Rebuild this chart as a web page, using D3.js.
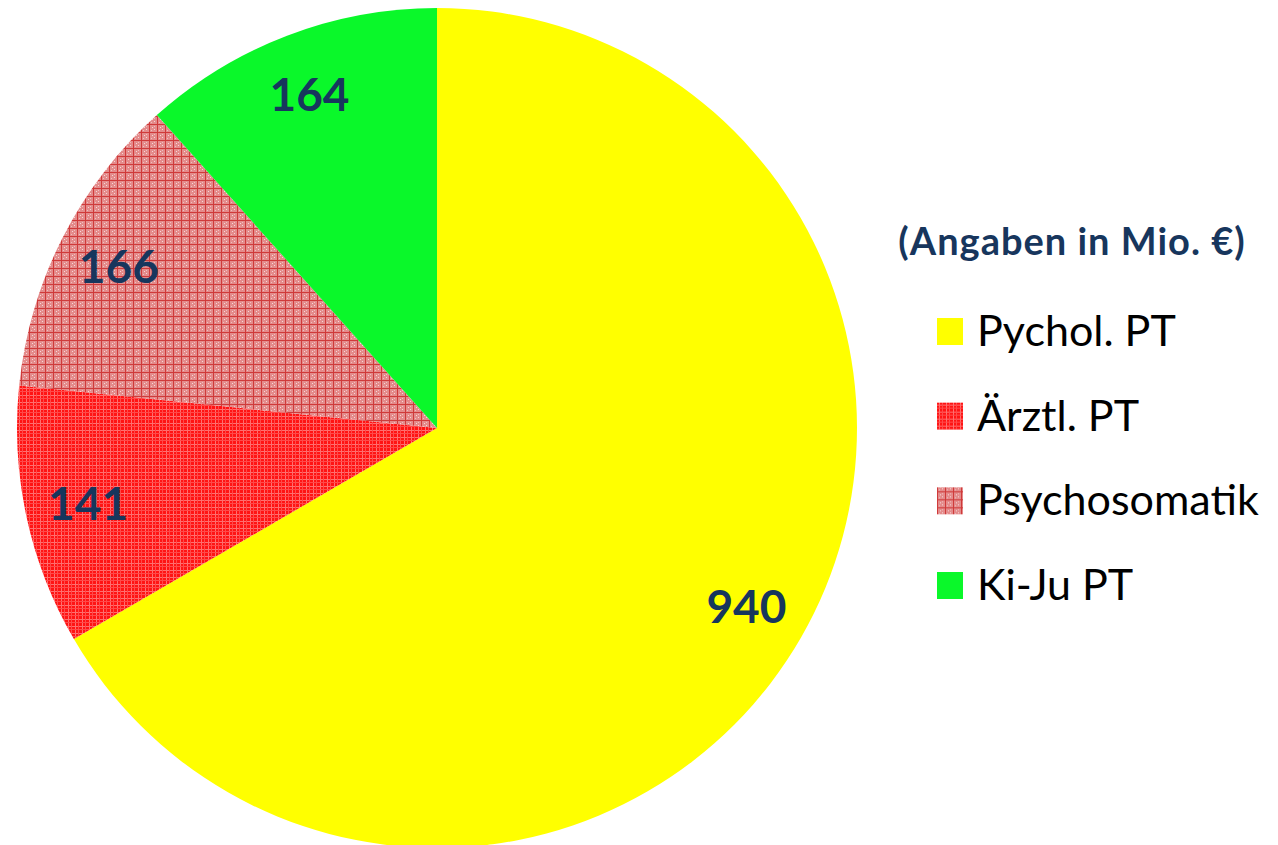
<!DOCTYPE html>
<html>
<head>
<meta charset="utf-8">
<script src="https://cdn.jsdelivr.net/npm/d3@7"></script>
<style>
  body { margin: 0; background: #fff; }
  svg { display: block; }
</style>
</head>
<body>
<svg id="chart" width="1278" height="845"></svg>
<script>
var categories = ['Pychol. PT', 'Ärztl. PT', 'Psychosomatik', 'Ki-Ju PT'];
var values = [940, 141, 166, 164];
var fills = ['#ffff00', 'url(#patRed)', 'url(#patPink)', '#0af82a'];
var legendTitle = '(Angaben in Mio. €)';

var width = 1278, height = 845;
var cx = 437, cy = 428, radius = 420;
var labelColor = '#17365d';

var svg = d3.select('#chart');
var defs = svg.append('defs');

// red plaid
var pr = defs.append('pattern')
    .attr('id', 'patRed')
    .attr('patternUnits', 'userSpaceOnUse')
    .attr('width', 7).attr('height', 7);
pr.append('rect').attr('width', 7).attr('height', 7).attr('fill', '#ff1414');
pr.append('rect').attr('x', 2).attr('width', 1).attr('height', 7).attr('fill', '#ff6f6f');
pr.append('rect').attr('y', 2).attr('width', 7).attr('height', 1).attr('fill', '#ff6f6f');
pr.append('rect').attr('x', 5).attr('width', 1).attr('height', 7).attr('fill', '#ff4a4a');
pr.append('rect').attr('y', 5).attr('width', 7).attr('height', 1).attr('fill', '#ff4a4a');

// pink check
var pp = defs.append('pattern')
    .attr('id', 'patPink')
    .attr('patternUnits', 'userSpaceOnUse')
    .attr('width', 8).attr('height', 8);
pp.append('rect').attr('width', 8).attr('height', 8).attr('fill', '#e48b8b');
pp.append('rect').attr('x', 0).attr('width', 1).attr('height', 8).attr('fill', '#cf3a3a');
pp.append('rect').attr('y', 0).attr('width', 8).attr('height', 1).attr('fill', '#cf3a3a');
pp.append('rect').attr('x', 3).attr('y', 3).attr('width', 1).attr('height', 1).attr('fill', '#f6d8d8');
pp.append('rect').attr('x', 5).attr('y', 5).attr('width', 1).attr('height', 1).attr('fill', '#f6d8d8');
pp.append('rect').attr('x', 5).attr('y', 2).attr('width', 1).attr('height', 1).attr('fill', '#efc0c0');
pp.append('rect').attr('x', 2).attr('y', 6).attr('width', 1).attr('height', 1).attr('fill', '#efc0c0');

var data = categories.map(function (c, i) {
    return { name: c, value: values[i], fill: fills[i] };
});

var pie = d3.pie().sort(null).value(function (d) { return d.value; });
var arc = d3.arc().innerRadius(0).outerRadius(radius);
var labelArc = d3.arc().innerRadius(radius * 0.85).outerRadius(radius * 0.85);

var g = svg.append('g').attr('transform', 'translate(' + cx + ',' + cy + ')');
var arcs = pie(data);

g.selectAll('path')
    .data(arcs)
    .enter()
    .append('path')
    .attr('d', arc)
    .attr('fill', function (d) { return d.data.fill; });

g.selectAll('text')
    .data(arcs)
    .enter()
    .append('text')
    .attr('transform', function (d) { return 'translate(' + labelArc.centroid(d) + ')'; })
    .attr('text-anchor', 'middle')
    .attr('dy', '0.36em')
    .style('font-family', 'Lato, "Open Sans", sans-serif')
    .style('font-weight', 'bold')
    .style('font-size', '46px')
    .style('fill', labelColor)
    .text(function (d) { return d.data.value; });

// legend
svg.append('text')
    .attr('x', 1072)
    .attr('y', 255)
    .attr('text-anchor', 'middle')
    .style('font-family', 'Lato, "Open Sans", sans-serif')
    .style('font-weight', 'bold')
    .style('font-size', '38px')
    .style('letter-spacing', '1px')
    .style('fill', labelColor)
    .text(legendTitle);

var legendY = d3.scalePoint().domain(categories).range([346, 600]);

var item = svg.selectAll('.legend')
    .data(data)
    .enter()
    .append('g')
    .attr('class', 'legend')
    .attr('transform', function (d) { return 'translate(937,' + legendY(d.name) + ')'; });

item.append('rect')
    .attr('x', 0)
    .attr('y', -28)
    .attr('width', 26)
    .attr('height', 27)
    .attr('fill', function (d) { return d.fill; });

item.append('text')
    .attr('x', 40)
    .attr('y', 0)
    .style('font-family', 'Lato, "Open Sans", sans-serif')
    .style('font-size', '43px')
    .style('fill', '#000')
    .text(function (d) { return d.name; });
</script>
</body>
</html>
